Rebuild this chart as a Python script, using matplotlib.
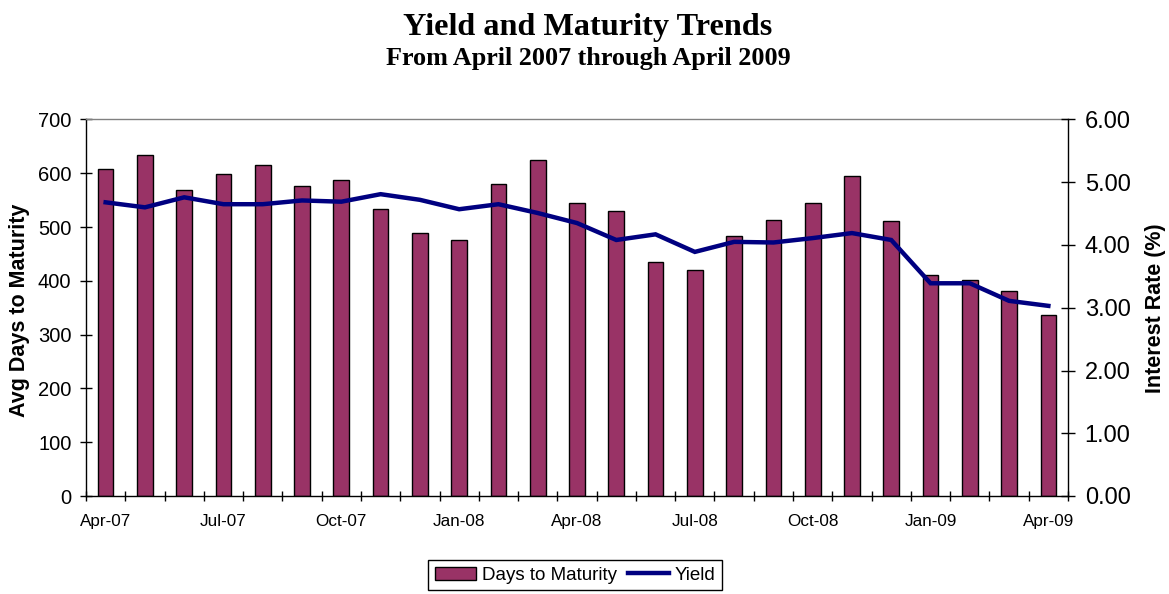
import matplotlib
matplotlib.use("Agg")
import matplotlib.pyplot as plt
import numpy as np

months = ["Apr-07", "May-07", "Jun-07", "Jul-07", "Aug-07", "Sep-07", "Oct-07", "Nov-07",
          "Dec-07", "Jan-08", "Feb-08", "Mar-08", "Apr-08", "May-08", "Jun-08", "Jul-08",
          "Aug-08", "Sep-08", "Oct-08", "Nov-08", "Dec-08", "Jan-09", "Feb-09", "Mar-09", "Apr-09"]
days_to_maturity = [608, 634, 568, 599, 615, 577, 587, 533, 489, 476, 580, 625, 545,
                    530, 435, 420, 483, 514, 545, 595, 511, 410, 401, 381, 337]
yield_pct = [4.68, 4.60, 4.76, 4.65, 4.65, 4.71, 4.69, 4.81, 4.72, 4.57, 4.65, 4.51, 4.35,
             4.08, 4.17, 3.89, 4.05, 4.04, 4.11, 4.19, 4.08, 3.39, 3.39, 3.11, 3.03]
left_ticks = [0, 100, 200, 300, 400, 500, 600, 700]
right_ticks = [0, 1, 2, 3, 4, 5, 6]

sans = "Liberation Sans"
serif = "Liberation Serif"

fig = plt.figure(figsize=(11.69, 5.94), dpi=100)
ax = fig.add_axes([86/1169, 1-496/594, (1068-86)/1169, (496-119.5)/594])
x = np.arange(len(months))

bars = ax.bar(x, days_to_maturity, width=0.4, color="#993366", edgecolor="black",
              linewidth=1.0, label="Days to Maturity", zorder=2)
ax.set_xlim(-0.5, len(months) - 0.5)
ax.set_ylim(0, 700)
ax.set_yticks(left_ticks)
ax.set_yticklabels([str(v) for v in left_ticks], fontfamily=sans, fontsize=14.5)
ax.tick_params(axis="y", direction="inout", length=9, width=1, pad=6)

# x ticks at category boundaries, labels every 3rd month at bar centers
ax.set_xticks(np.arange(-0.5, len(months), 1.0))
ax.set_xticklabels([])
ax.tick_params(axis="x", which="major", direction="inout", length=7, width=1)
lab_idx = list(range(0, len(months), 3))
ax.set_xticks(lab_idx, minor=True)
ax.set_xticklabels([months[i] for i in lab_idx], minor=True, fontfamily=sans, fontsize=12.3)
ax.tick_params(axis="x", which="minor", length=0, pad=13)

for s in ["left", "bottom"]:
    ax.spines[s].set_color("black")
    ax.spines[s].set_linewidth(1.0)
ax.spines["top"].set_color("#808080")
ax.spines["top"].set_linewidth(1.0)
ax.spines["right"].set_visible(False)

ax2 = ax.twinx()
line, = ax2.plot(x, yield_pct, color="#000080", linewidth=3.2, label="Yield", zorder=3,
                 solid_joinstyle="miter")
ax2.set_ylim(0, 6)
ax2.set_yticks(right_ticks)
ax2.set_yticklabels([f"{v:.2f}" for v in right_ticks], fontfamily=sans, fontsize=17)
ax2.tick_params(axis="y", direction="inout", length=10, width=1, pad=7)
ax2.spines["right"].set_color("black")
ax2.spines["right"].set_linewidth(1.0)
for s in ["left", "bottom", "top"]:
    ax2.spines[s].set_visible(False)

fig.text(20/1169, 1-310/594, "Avg Days to Maturity", rotation=90, ha="center", va="center",
         fontfamily=sans, fontweight="bold", fontsize=15.5)
fig.text(1155/1169, 1-308/594, "Interest Rate (%)", rotation=90, ha="center", va="center",
         fontfamily=sans, fontweight="bold", fontsize=15.5)

fig.text(588/1169, 1-35/594, "Yield and Maturity Trends", ha="center", va="baseline",
         fontfamily=serif, fontweight="bold", fontsize=23.2)
fig.text(588/1169, 1-65/594, "From April 2007 through April 2009", ha="center", va="baseline",
         fontfamily=serif, fontweight="bold", fontsize=18.8)

leg = fig.legend([bars, line], ["Days to Maturity", "Yield"], loc="upper center",
                 bbox_to_anchor=(575/1169, 1-560/594), ncol=2, frameon=True,
                 fancybox=False, edgecolor="black", framealpha=1,
                 prop={"family": sans, "size": 13.5}, handlelength=2.2,
                 handletextpad=0.3, columnspacing=0.6, borderpad=0.35,
                 handleheight=0.7, borderaxespad=0)
leg.get_frame().set_linewidth(1.0)

fig.savefig("out.png", dpi=100)
